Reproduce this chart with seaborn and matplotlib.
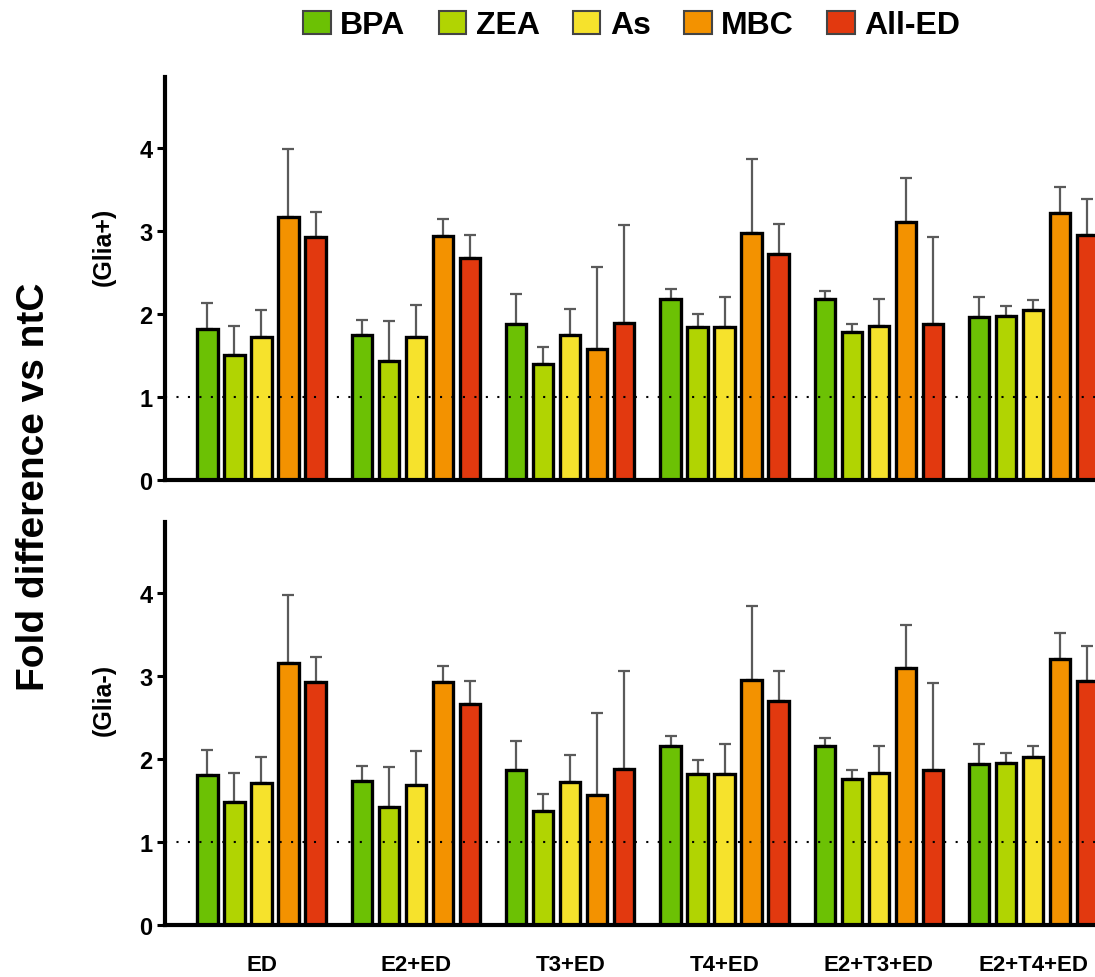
import numpy as np
import pandas as pd
import matplotlib
matplotlib.use('Agg')
import matplotlib.pyplot as plt
import seaborn as sns
from matplotlib.patches import Patch

# data (bar mean, top of error bar)
treatments = ['ED', 'E2+ED', 'T3+ED', 'T4+ED', 'E2+T3+ED', 'E2+T4+ED']
compounds = ['BPA', 'ZEA', 'As', 'MBC', 'All-ED']
palette = ['#6cc104', '#b1d402', '#f6e22c', '#f39200', '#e2390f']

# Glia+ panel
glia_pos_mean = {
    'BPA':    [1.82, 1.75, 1.88, 2.18, 2.18, 1.96],
    'ZEA':    [1.50, 1.43, 1.40, 1.84, 1.78, 1.97],
    'As':     [1.72, 1.72, 1.75, 1.84, 1.85, 2.04],
    'MBC':    [3.17, 2.94, 1.58, 2.97, 3.10, 3.21],
    'All-ED': [2.93, 2.67, 1.89, 2.72, 1.88, 2.95],
}
glia_pos_top = {
    'BPA':    [2.13, 1.93, 2.24, 2.30, 2.27, 2.20],
    'ZEA':    [1.85, 1.91, 1.60, 2.00, 1.88, 2.09],
    'As':     [2.05, 2.11, 2.06, 2.20, 2.18, 2.17],
    'MBC':    [3.98, 3.14, 2.56, 3.86, 3.63, 3.53],
    'All-ED': [3.23, 2.95, 3.07, 3.08, 2.92, 3.38],
}

# Glia- panel
glia_neg_mean = {
    'BPA':    [1.81, 1.73, 1.86, 2.16, 2.16, 1.94],
    'ZEA':    [1.48, 1.42, 1.37, 1.82, 1.76, 1.95],
    'As':     [1.71, 1.69, 1.72, 1.82, 1.83, 2.02],
    'MBC':    [3.15, 2.92, 1.56, 2.95, 3.09, 3.20],
    'All-ED': [2.92, 2.66, 1.88, 2.70, 1.87, 2.94],
}
glia_neg_top = {
    'BPA':    [2.11, 1.91, 2.22, 2.28, 2.25, 2.18],
    'ZEA':    [1.83, 1.90, 1.58, 1.98, 1.86, 2.07],
    'As':     [2.02, 2.09, 2.04, 2.18, 2.16, 2.15],
    'MBC':    [3.97, 3.12, 2.55, 3.84, 3.61, 3.52],
    'All-ED': [3.23, 2.94, 3.06, 3.06, 2.91, 3.36],
}


def make_df(mean, top):
    rows = []
    for c in compounds:
        for t, m, e in zip(treatments, mean[c], top[c]):
            rows.append({'treatment': t, 'compound': c, 'fold': m, 'err_top': e})
    return pd.DataFrame(rows)


sns.set_style('white')
plt.rcParams['font.family'] = ['Liberation Sans', 'DejaVu Sans']
plt.rcParams['font.weight'] = 'bold'
plt.rcParams['text.color'] = 'black'
plt.rcParams['xtick.color'] = 'black'
plt.rcParams['ytick.color'] = 'black'

fig = plt.figure(figsize=(10.95, 9.78), dpi=100)
ax_top = fig.add_axes([0.1507, 0.5082, 0.8493, 0.412])
ax_bot = fig.add_axes([0.1507, 0.0532, 0.8493, 0.412])


def draw_panel(ax, df, show_x):
    sns.barplot(data=df, x='treatment', y='fold', hue='compound',
                order=treatments, hue_order=compounds, palette=palette,
                saturation=1, errorbar=None, width=0.875, gap=0.25,
                edgecolor='black', linewidth=2.4, legend=False, ax=ax)
    bar_conts = list(ax.containers)
    # one-sided error bars (upper only)
    for i, cont in enumerate(bar_conts):
        sub = df[df.compound == compounds[i]].set_index('treatment').loc[treatments]
        xs = [b.get_x() + b.get_width() / 2 for b in cont]
        ys = sub['fold'].values
        up = sub['err_top'].values - ys
        ax.errorbar(xs, ys, yerr=[np.zeros_like(up), up], fmt='none',
                    ecolor='#5a5a5a', elinewidth=1.6, capsize=4.5,
                    capthick=1.6, zorder=0.5)
    ax.axhline(1, color='black', linestyle=(0, (1, 4.5)), linewidth=1.5, zorder=3)
    ax.set_xlim(-0.625, 5.40)
    ax.set_ylim(0, 4.85)
    ax.set_yticks([0, 1, 2, 3, 4])
    ax.set_xlabel('')
    ax.set_ylabel('')
    for s in ['top', 'right']:
        ax.spines[s].set_visible(False)
    for s in ['left', 'bottom']:
        ax.spines[s].set_linewidth(3)
        ax.spines[s].set_color('black')
    ax.tick_params(axis='y', direction='out', length=6, width=2.2,
                   labelsize=17, pad=3, left=True, colors='black')
    ax.tick_params(axis='x', length=0, labelsize=16, pad=21, colors='black')
    for lbl in ax.get_yticklabels():
        lbl.set_fontweight('bold')
    if show_x:
        for lbl in ax.get_xticklabels():
            lbl.set_fontweight('bold')
    else:
        ax.set_xticklabels([])


draw_panel(ax_top, make_df(glia_pos_mean, glia_pos_top), False)
draw_panel(ax_bot, make_df(glia_neg_mean, glia_neg_top), True)

fig.text(0.031, 0.502, 'Fold difference vs ntC', rotation=90, ha='center',
         va='center', fontsize=28, fontweight='bold', color='black')
fig.text(0.095, 0.748, '(Glia+)', rotation=90, ha='center', va='center',
         fontsize=18, fontweight='bold', color='black')
fig.text(0.095, 0.284, '(Glia-)', rotation=90, ha='center', va='center',
         fontsize=18, fontweight='bold', color='black')

handles = [Patch(facecolor=c, edgecolor='#444444', linewidth=1.5) for c in palette]
leg = fig.legend(handles, compounds, loc='center', bbox_to_anchor=(0.577, 0.973),
                 ncol=5, frameon=False, handlelength=0.85, handleheight=0.75,
                 handletextpad=0.3, columnspacing=1.05,
                 prop={'size': 23, 'weight': 'bold'})
for txt in leg.get_texts():
    txt.set_color('black')

fig.savefig('out.png', dpi=100, facecolor='white')
